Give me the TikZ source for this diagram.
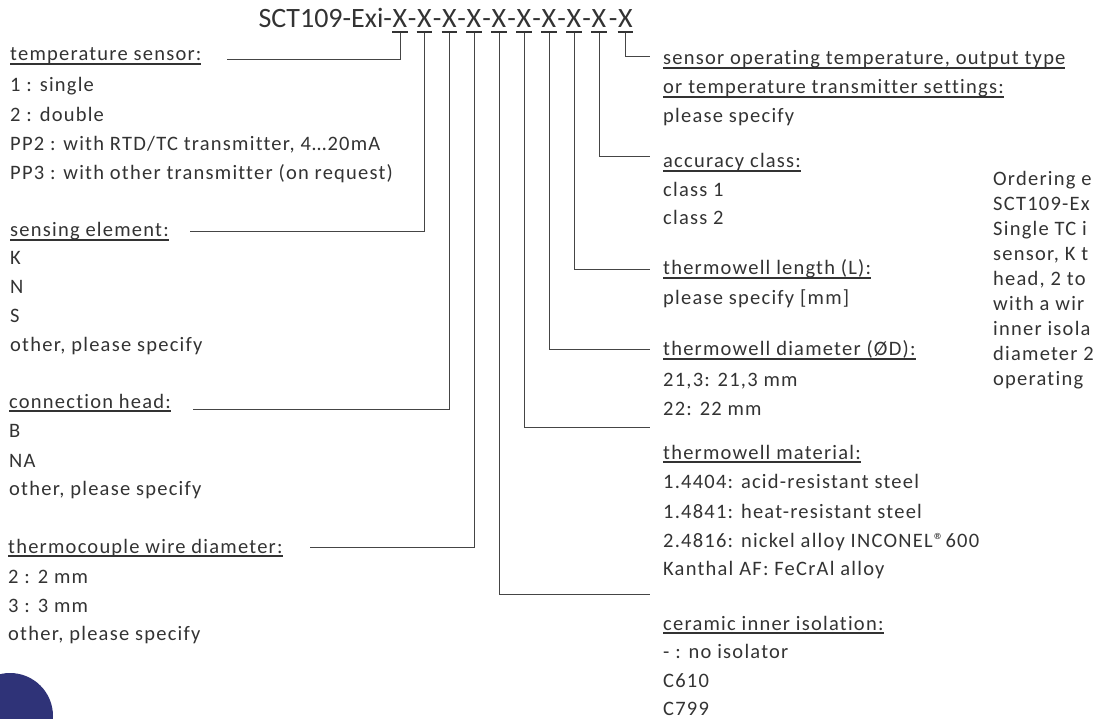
\documentclass[tikz,border=0pt]{standalone}
\usepackage{fontspec}
\setmainfont{Carlito}[LetterSpace=6,Ligatures=CommonOff]
\newfontfamily\ttlfont{Carlito}[Ligatures=CommonOff]
\definecolor{txt}{HTML}{333333}
\definecolor{ln}{HTML}{454545}
\definecolor{navy}{HTML}{2F3378}
\newcommand\ulx[2][-3.8pt]{\setbox0=\hbox{#2}\rlap{\rule[#1]{\wd0}{1.7pt}}\box0}
\newcommand\ux{\ulx[-5pt]{\makebox[15.5pt]{X}}}
\newcommand\dx[1]{\makebox[#1][r]{-\ux}}
\begin{document}
\begin{tikzpicture}[x=1pt,y=-1pt,
  t/.style={anchor=base west, inner sep=0pt, font=\fontsize{20.5}{24}\selectfont, text=txt},
  ttl/.style={inner sep=0pt, font=\ttlfont\fontsize{28}{32}\selectfont, text=txt},
  conn/.style={draw=ln, line width=1pt}]
\useasboundingbox (0,0) rectangle (1093,719);
\fill[navy] (10,716) circle[radius=43pt];

% title
\node[ttl, anchor=base east] (sct) at (633.25,28)
  {SCT109-Exi-\ux\dx{24.5pt}\dx{25pt}\dx{24.5pt}\dx{25pt}\dx{25pt}\dx{25pt}\dx{25pt}\dx{25pt}\dx{26.5pt}};
\foreach \i/\xx in {1/400,2/424.5,3/449.5,4/474,5/499,6/524,7/549,8/574,9/599,10/625.5}{
  \coordinate (x\i) at (\xx,33);
}

% left column
\node[t] (l1) at (10,61) {\ulx{temperature sensor:}};
\node[t] (l2) at (10,92) {1 : single};
\node[t] (l3) at (10,121.5) {2 : double};
\node[t] (l4) at (10,150.5) {PP2 : with RTD/TC transmitter, 4…20mA};
\node[t] (l5) at (10,180) {PP3 : with other transmitter (on request)};
\node[t] (l6) at (10,237) {\ulx{sensing element:}};
\node[t] (l7) at (10,265) {K};
\node[t] (l8) at (10,294) {N};
\node[t] (l9) at (10,323) {S};
\node[t] (l10) at (10,352) {other, please specify};
\node[t] (l11) at (9,408) {\ulx{connection head:}};
\node[t] (l12) at (9,438) {B};
\node[t] (l13) at (9,467) {NA};
\node[t] (l14) at (9,495) {other, please specify};
\node[t] (l15) at (8,553) {\ulx{thermocouple wire diameter:}};
\node[t] (l16) at (8,583) {2 : 2 mm};
\node[t] (l17) at (8,612) {3 : 3 mm};
\node[t] (l18) at (8,640) {other, please specify};

% right column
\node[t] (r1) at (663,65) {\ulx{sensor operating temperature, output type}};
\node[t] (r2) at (663,94) {\ulx{or temperature transmitter settings:}};
\node[t] (r3) at (663,123) {please specify};
\node[t] (r4) at (663,168) {\ulx{accuracy class:}};
\node[t] (r5) at (663,197) {class 1};
\node[t] (r6) at (663,225) {class 2};
\node[t] (r7) at (663,275) {\ulx{thermowell length (L):}};
\node[t] (r8) at (663,305) {please specify [mm]};
\node[t] (r9) at (663,356) {\ulx{thermowell diameter (ØD):}};
\node[t] (r10) at (663,387) {21,3: 21,3 mm};
\node[t] (r11) at (663,415) {22: 22 mm};
\node[t] (r12) at (663,459) {\ulx{thermowell material:}};
\node[t] (r13) at (663,488) {1.4404: acid-resistant steel};
\node[t] (r14) at (663,518) {1.4841: heat-resistant steel};
\node[t] (r15) at (663,547) {2.4816: nickel alloy INCONEL®600};
\node[t] (r16) at (663,575) {Kanthal AF: FeCrAl alloy};
\node[t] (r17) at (663,630) {\ulx{ceramic inner isolation:}};
\node[t] (r18) at (663,658) {- : no isolator};
\node[t] (r19) at (663,687) {C610};
\node[t] (r20) at (663,715.5) {C799};

% far right (cut by the edge)
\node[t] (e1) at (993,186) {Ordering e};
\node[t] (e2) at (993,211) {SCT109-Ex};
\node[t] (e3) at (993,236) {Single TC i};
\node[t] (e4) at (993,261) {sensor, K t};
\node[t] (e5) at (993,286) {head, 2 to};
\node[t] (e6) at (993,311) {with a wir};
\node[t] (e7) at (993,336) {inner isola};
\node[t] (e8) at (993,361) {diameter 2};
\node[t] (e9) at (993,386) {operating};

% connector ends
\coordinate (c1) at (227,60);
\coordinate (c2) at (190,232);
\coordinate (c3) at (193,410);
\coordinate (c4) at (310,547);
\coordinate (c5) at (650,594);
\coordinate (c6) at (650,427);
\coordinate (c7) at (650,350);
\coordinate (c8) at (650,270);
\coordinate (c9) at (650,157);
\coordinate (c10) at (650,57);
\foreach \i in {1,...,10}{\draw[conn] (x\i) |- (c\i);}
\end{tikzpicture}
\end{document}
